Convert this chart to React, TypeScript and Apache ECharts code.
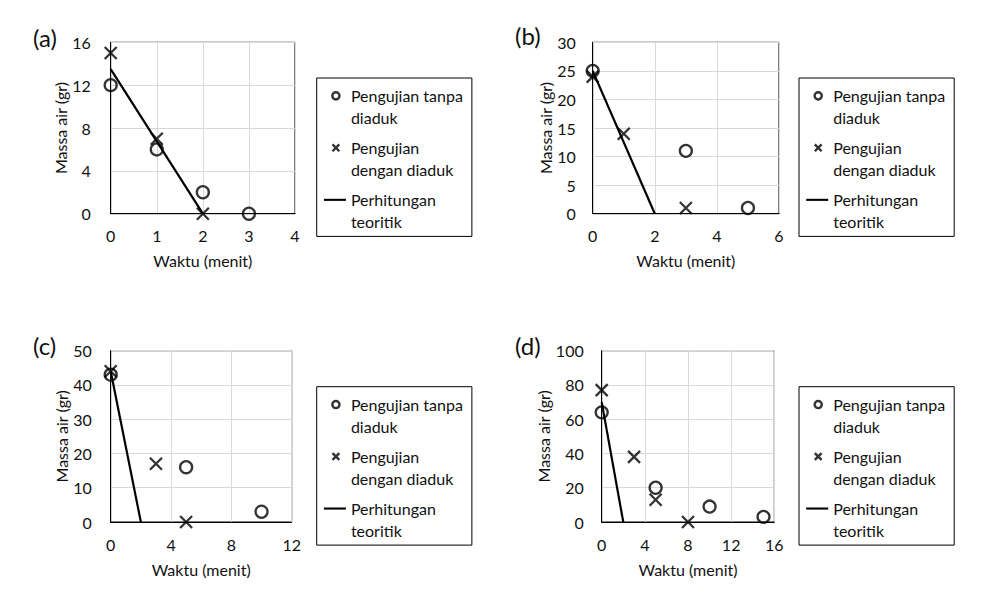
import React, { useEffect, useRef } from "react";
import * as echarts from "echarts";

// ---------- data ----------
const panelLabels = ["(a)", "(b)", "(c)", "(d)"];
const seriesNames = ["Pengujian tanpa diaduk", "Pengujian dengan diaduk", "Perhitungan teoritik"];
const legendLabels = ["Pengujian tanpa\ndiaduk", "Pengujian\ndengan diaduk", "Perhitungan\nteoritik"];
const xAxisTitle = "Waktu (menit)";
const yAxisTitle = "Massa air (gr)";

// panel (a)
const aTanpaX = [0, 1, 2, 3];
const aTanpaY = [12, 6, 2, 0];
const aDenganX = [0, 1, 2];
const aDenganY = [15, 7, 0];
const aTeoriX = [0, 2];
const aTeoriY = [13.5, 0];
// panel (b)
const bTanpaX = [0, 3, 5];
const bTanpaY = [25, 11, 1];
const bDenganX = [0, 1, 3];
const bDenganY = [24, 14, 1];
const bTeoriX = [0, 2];
const bTeoriY = [25, 0];
// panel (c)
const cTanpaX = [0, 5, 10];
const cTanpaY = [43, 16, 3];
const cDenganX = [0, 3, 5];
const cDenganY = [44, 17, 0];
const cTeoriX = [0, 2];
const cTeoriY = [44, 0];
// panel (d)
const dTanpaX = [0, 5, 10, 15];
const dTanpaY = [64, 20, 9, 3];
const dDenganX = [0, 3, 5, 8];
const dDenganY = [77, 38, 13, 0];
const dTeoriX = [0, 2];
const dTeoriY = [70, 0];

// axis ranges
const xMax = [4, 6, 12, 16];
const xInterval = [1, 2, 4, 4];
const yMax = [16, 30, 50, 100];
const yInterval = [4, 5, 10, 20];

const panels = [
  { tanpa: [aTanpaX, aTanpaY], dengan: [aDenganX, aDenganY], teori: [aTeoriX, aTeoriY] },
  { tanpa: [bTanpaX, bTanpaY], dengan: [bDenganX, bDenganY], teori: [bTeoriX, bTeoriY] },
  { tanpa: [cTanpaX, cTanpaY], dengan: [cDenganX, cDenganY], teori: [cTeoriX, cTeoriY] },
  { tanpa: [dTanpaX, dTanpaY], dengan: [dDenganX, dDenganY], teori: [dTeoriX, dTeoriY] },
];

// ---------- layout ----------
const FONT = "Lato";
const TXT = "#111111";
const grids = [
  { left: 110.7, top: 42.3, width: 184.3, height: 171.4 },
  { left: 592.7, top: 42.3, width: 186.3, height: 171.4 },
  { left: 110.7, top: 350.7, width: 181, height: 171.3 },
  { left: 601.7, top: 350.7, width: 172.6, height: 171.3 },
];
const yNameGap = [42, 38, 40, 48];
const yLabelMargin = [20, 17, 19, 18];
const legendPos = [
  { left: 316.7, top: 78 },
  { left: 799, top: 78 },
  { left: 316.7, top: 386.7 },
  { left: 799, top: 386.7 },
];
const titlePos = [
  { left: 33, top: 25 },
  { left: 515, top: 23 },
  { left: 33, top: 333 },
  { left: 515, top: 333 },
];

const pairs = (xs: number[], ys: number[]) => xs.map((x, i) => [x, ys[i]]);
const CROSS = "path://M0,0L10,10M10,0L0,10";
// legend icons: drawn in a 22x32 box so the mark sits beside the first text line
const ICON_CIRCLE = "path://M0 0M22 32M15.6 5.15A3.6 3.6 0 1 1 8.4 5.15A3.6 3.6 0 1 1 15.6 5.15Z";
const ICON_CROSS = "path://M0 0M22 32M8.6 1.75L15.4 8.55M15.4 1.75L8.6 8.55";
const ICON_LINE = "path://M0 0M22 32M0 4.1L22 4.1L22 6.2L0 6.2Z";

export default function App() {
  const ref = useRef<HTMLDivElement>(null);
  useEffect(() => {
    if (!ref.current) return;
    const chart = echarts.init(ref.current, undefined, { renderer: "svg" });
    const labelMap: Record<string, string> = {};
    seriesNames.forEach((n, i) => (labelMap[n] = legendLabels[i]));

    const series: any[] = [];
    panels.forEach((p, i) => {
      series.push({
        name: seriesNames[0],
        type: "scatter",
        xAxisIndex: i,
        yAxisIndex: i,
        symbol: "circle",
        symbolSize: 12,
        itemStyle: { color: "transparent", borderColor: "#000", borderWidth: 2.3 },
        data: pairs(p.tanpa[0], p.tanpa[1]),
        z: 3,
      });
      series.push({
        name: seriesNames[1],
        type: "scatter",
        xAxisIndex: i,
        yAxisIndex: i,
        symbol: CROSS,
        symbolSize: 12,
        itemStyle: { color: "transparent", borderColor: "#000", borderWidth: 2.3 },
        data: pairs(p.dengan[0], p.dengan[1]),
        z: 3,
      });
      series.push({
        name: seriesNames[2],
        type: "line",
        xAxisIndex: i,
        yAxisIndex: i,
        symbol: "none",
        lineStyle: { color: "#000", width: 2.2 },
        itemStyle: { color: "#000" },
        data: pairs(p.teori[0], p.teori[1]),
        z: 2,
      });
    });

    const legendData = [
      { name: seriesNames[0], icon: ICON_CIRCLE, itemStyle: { color: "transparent", borderColor: "#000", borderWidth: 2.4 } },
      { name: seriesNames[1], icon: ICON_CROSS, itemStyle: { color: "transparent", borderColor: "#000", borderWidth: 2.4 } },
      { name: seriesNames[2], icon: ICON_LINE, itemStyle: { color: "#000", borderWidth: 0 } },
    ];

    const option: any = {
      animation: false,
      backgroundColor: "#fff",
      textStyle: { fontFamily: FONT },
      title: panelLabels.map((t, i) => ({
        text: t,
        left: titlePos[i].left,
        top: titlePos[i].top,
        padding: 0,
        textStyle: { fontFamily: FONT, fontSize: 24, fontWeight: "normal", color: TXT },
      })),
      grid: grids.map((g) => ({
        ...g,
        show: true,
        borderColor: "#000",
        borderWidth: 1,
        backgroundColor: "transparent",
        containLabel: false,
      })),
      xAxis: grids.map((_, i) => ({
        type: "value",
        gridIndex: i,
        min: 0,
        max: xMax[i],
        interval: xInterval[i],
        name: xAxisTitle,
        nameLocation: "middle",
        nameGap: 39,
        nameTextStyle: { fontFamily: FONT, fontSize: 16, color: TXT },
        axisLine: { show: true, onZero: false, lineStyle: { color: "#000", width: 1 } },
        axisTick: { show: false },
        axisLabel: { margin: 14, fontFamily: FONT, fontSize: 16, color: TXT },
        splitLine: { show: true, lineStyle: { color: "#d9d9d9", width: 1 } },
      })),
      yAxis: grids.map((_, i) => ({
        type: "value",
        gridIndex: i,
        min: 0,
        max: yMax[i],
        interval: yInterval[i],
        name: yAxisTitle,
        nameLocation: "middle",
        nameGap: yNameGap[i],
        nameTextStyle: { fontFamily: FONT, fontSize: 16, color: TXT },
        axisLine: { show: true, onZero: false, lineStyle: { color: "#000", width: 1 } },
        axisTick: { show: false },
        axisLabel: { margin: yLabelMargin[i], fontFamily: FONT, fontSize: 16, color: TXT },
        splitLine: { show: true, lineStyle: { color: "#d9d9d9", width: 1 } },
      })),
      legend: legendPos.map((lp) => ({
        left: lp.left,
        top: lp.top,
        orient: "vertical",
        align: "left",
        data: legendData,
        selectedMode: false,
        itemWidth: 22,
        itemHeight: 32,
        itemGap: 8.6,
        padding: [7, 9, 4, 6],
        borderColor: "#000",
        borderWidth: 1,
        formatter: (n: string) => labelMap[n] || n,
        textStyle: {
          fontFamily: FONT,
          fontSize: 16,
          lineHeight: 21.7,
          color: TXT,
        },
      })),
      series,
    };
    chart.setOption(option);
    return () => chart.dispose();
  }, []);
  return (
    <div
      ref={ref}
      style={{ position: "absolute", left: 0, top: 0, width: 983, height: 602 }}
    />
  );
}
